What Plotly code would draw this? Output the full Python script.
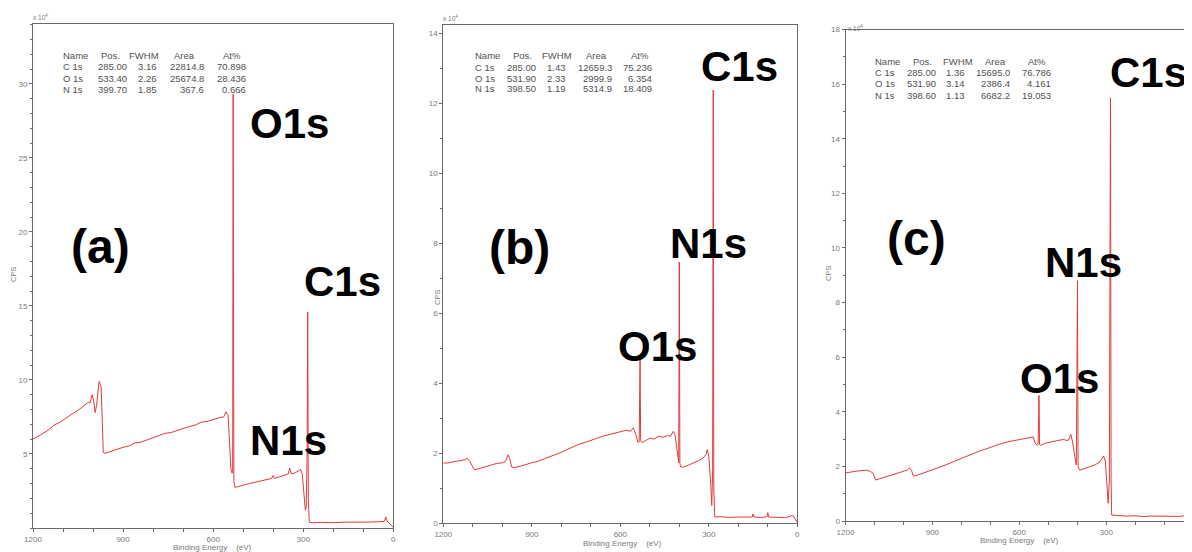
import plotly.graph_objects as go

W, H = 1192, 552
OFF = 8  # page body margin of the browser

# ---------------- survey spectrum (a) ----------------
be_a = [1200, 1185, 1170, 1150, 1130, 1110, 1090, 1070, 1050, 1030, 1015, 1010, 1003, 998, 993, 988, 983, 980, 976, 973, 969, 966,
        960, 940, 920, 900, 880, 860, 840, 820, 800, 780, 760, 740, 720, 700, 680, 660, 640, 620, 600, 580, 565, 557, 550, 545,
        541, 537, 535, 533.4, 531, 528, 524, 515, 500, 480, 460, 440, 420, 405, 400, 396, 380, 360, 350, 345, 340, 325, 315, 308,
        303, 297, 293, 290, 287, 285, 283, 280, 270, 240, 200, 160, 120, 80, 50, 30, 25, 22, 15, 5, 0]
cps_a = [6.0, 6.2, 6.35, 6.6, 6.95, 7.15, 7.45, 7.7, 7.95, 8.3, 8.5, 8.45, 9.0, 8.6, 7.8, 8.3, 9.4, 9.9, 9.7, 9.5, 7.0, 5.1,
         5.05, 5.2, 5.3, 5.45, 5.55, 5.75, 5.8, 5.95, 6.1, 6.2, 6.4, 6.45, 6.6, 6.75, 6.85, 6.95, 7.15, 7.2, 7.35, 7.45, 7.5, 7.85, 7.6, 6.0,
         4.0, 3.7, 3.8, 29.3, 3.2, 2.75, 2.75, 2.8, 2.9, 3.0, 3.1, 3.2, 3.3, 3.35, 3.55, 3.35, 3.45, 3.55, 3.65, 4.05, 3.65, 3.75, 3.85, 3.95,
         3.6, 2.0, 1.2, 1.4, 5.0, 14.6, 2.0, 0.4, 0.36, 0.38, 0.36, 0.4, 0.38, 0.4, 0.42, 0.45, 0.75, 0.5, 0.35, 0.15, 0.05]

# ---------------- survey spectrum (b) ----------------
be_b = [1200, 1180, 1160, 1140, 1125, 1119, 1110, 1102, 1095, 1080, 1060, 1040, 1020, 1000, 990, 980, 975, 968, 960, 940, 920,
        900, 880, 860, 840, 820, 800, 780, 760, 740, 720, 700, 680, 660, 640, 620, 600, 580, 565, 556, 548, 540, 536, 533, 531,
        527, 515, 500, 485, 470, 455, 440, 430, 420, 414, 408, 402, 400, 398, 395, 385, 370, 350, 335, 320, 310, 305, 300, 294,
        290, 287, 285, 283, 280, 260, 230, 200, 170, 153, 150, 147, 120, 103, 100, 97, 60, 40, 22, 15, 8, 0]
cps_b = [1.71, 1.72, 1.76, 1.78, 1.82, 1.85, 1.76, 1.62, 1.52, 1.55, 1.6, 1.65, 1.7, 1.72, 1.75, 1.95, 1.85, 1.6, 1.58, 1.62, 1.68,
         1.72, 1.76, 1.82, 1.88, 1.95, 2.02, 2.1, 2.18, 2.25, 2.3, 2.35, 2.42, 2.48, 2.52, 2.58, 2.62, 2.65, 2.62, 2.72, 2.55, 2.3, 2.32, 4.71, 2.35,
         2.3, 2.35, 2.42, 2.4, 2.48, 2.45, 2.5, 2.48, 2.62, 2.5, 2.1, 1.72, 7.46, 1.7, 1.6, 1.6, 1.65, 1.72, 1.78, 1.85, 1.95, 2.1, 1.9, 1.2,
         0.5, 1.5, 12.37, 1.0, 0.17, 0.18, 0.16, 0.17, 0.16, 0.17, 0.26, 0.17, 0.16, 0.18, 0.3, 0.17, 0.16, 0.15, 0.2, 0.22, 0.12, 0.02]

# ---------------- survey spectrum (c) ----------------
be_c = [1200, 1180, 1160, 1140, 1128, 1115, 1105, 1096, 1080, 1060, 1040, 1020, 1000, 985, 979, 972, 966, 960, 940, 920, 900,
        880, 860, 840, 820, 800, 780, 760, 740, 720, 700, 680, 660, 640, 620, 600, 580, 560, 552, 545, 538, 535, 532, 530, 527,
        510, 490, 470, 455, 447, 438, 430, 422, 416, 410, 403, 399, 397, 392, 380, 360, 340, 321, 309, 303, 297, 293, 289, 285,
        283, 281, 260, 230, 200, 170, 150, 120, 90, 60, 40, 30, 22, 12, 4, 0]
cps_c = [1.76, 1.8, 1.83, 1.85, 1.86, 1.82, 1.75, 1.5, 1.55, 1.62, 1.7, 1.76, 1.82, 1.88, 1.95, 1.85, 1.65, 1.65, 1.72, 1.8, 1.86,
         1.95, 2.03, 2.12, 2.2, 2.3, 2.38, 2.47, 2.55, 2.62, 2.7, 2.78, 2.84, 2.9, 2.95, 2.98, 3.02, 3.05, 3.08, 2.85, 2.77, 2.8, 4.6, 2.8, 2.77,
         2.85, 2.9, 2.95, 2.98, 2.99, 2.95, 2.96, 3.17, 2.9, 2.47, 2.05, 8.8, 2.0, 1.86, 1.9, 1.98, 2.05, 2.17, 2.38, 2.2, 1.3, 0.65, 1.5, 15.5,
         1.5, 0.22, 0.2, 0.18, 0.19, 0.16, 0.18, 0.17, 0.18, 0.16, 0.17, 0.2, 0.22, 0.12, 0.02, 0.0]

# ---------------- quantification tables ----------------
peak_names = ["C 1s", "O 1s", "N 1s"]
pos_a, fwhm_a, area_a, at_a = [285.00, 533.40, 399.70], [3.16, 2.26, 1.85], [22814.8, 25674.8, 367.6], [70.898, 28.436, 0.666]
pos_b, fwhm_b, area_b, at_b = [285.00, 531.90, 398.50], [1.43, 2.33, 1.19], [12659.3, 2999.9, 5314.9], [75.236, 6.354, 18.409]
pos_c, fwhm_c, area_c, at_c = [285.00, 531.90, 398.60], [1.36, 3.14, 1.13], [15695.0, 2386.4, 6682.2], [76.786, 4.161, 19.053]
headers = ["Name", "Pos.", "FWHM", "Area", "At%"]

panel_tags = ["(a)", "(b)", "(c)"]
peak_labels = ["O1s", "C1s", "N1s"]
y_ticks_a = [5, 10, 15, 20, 25, 30]
y_ticks_b = [0, 2, 4, 6, 8, 10, 12, 14]
y_ticks_c = [0, 2, 4, 6, 8, 10, 12, 14, 16, 18]
x_ticks = [1200, 900, 600, 300, 0]

RED = "#e23a3a"
AX = "#6a6a6a"
TXT = "#7a7a7a"


def fx(p):
    return (p - OFF) / W


def fy(p):
    return 1 - (p - OFF) / H


panels = [
    dict(be=be_a, val=cps_a, xd=(33, 393.3), yd=(528, 24), yr=[0, 34.05], xr=[1200, 0], yt=y_ticks_a,
         tbl=(pos_a, fwhm_a, area_a, at_a), tx=(61, 110, 129, 144, 159, 184, 206, 232, 248), ty=(55, 66.5, 78, 89.5),
         tag=(100, 246), labels={"O1s": (289, 123), "C1s": (342, 281), "N1s": (288, 440)},
         cpsxy=(13, 275), xtitle=(213, 547), x104=(40, 17)),
    dict(be=be_b, val=cps_b, xd=(443.3, 797.3), yd=(523, 25), yr=[0, 14.23], xr=[1200, 0], yt=y_ticks_b,
         tbl=(pos_b, fwhm_b, area_b, at_b), tx=(473, 522, 538, 557, 568, 596, 614, 640, 654), ty=(56, 67, 78, 89),
         tag=(519, 247), labels={"C1s": (739, 66), "N1s": (708, 243), "O1s": (657, 346)},
         cpsxy=(437, 298), xtitle=(622, 543), x104=(450, 18)),
    dict(be=be_c, val=cps_c, xd=(845.5, 1200), yd=(521, 29.5), yr=[0, 18], xr=[1200, -24], yt=y_ticks_c,
         tbl=(pos_c, fwhm_c, area_c, at_c), tx=(873, 922, 938, 958, 967, 995, 1012, 1037, 1053), ty=(62, 73, 83.5, 95),
         tag=(916, 238), labels={"C1s": (1148, 73), "N1s": (1083, 263), "O1s": (1059, 378)},
         cpsxy=(828, 273), xtitle=(1019, 540), x104=(855, 28)),
]

fig = go.Figure()
annotations = []
layout = dict(width=W, height=H, margin=dict(l=0, r=0, t=0, b=0, autoexpand=False), paper_bgcolor="white",
              plot_bgcolor="white", showlegend=False)

tickfont = dict(family="Liberation Sans, Arial, sans-serif", size=8, color=TXT)
tblfont = dict(family="Liberation Sans, Arial, sans-serif", size=9.5, color="#505050")
bigfont = dict(family="Liberation Sans, Arial, sans-serif", size=42, color="black", weight="bold")

for i, p in enumerate(panels, start=1):
    sx = "" if i == 1 else str(i)
    fig.add_trace(go.Scatter(x=p["be"], y=p["val"], mode="lines", line=dict(color=RED, width=1),
                             xaxis="x" + sx, yaxis="y" + sx, hoverinfo="skip"))
    layout["xaxis" + sx] = dict(domain=[fx(p["xd"][0]), min(1.0, fx(p["xd"][1]))], range=p["xr"], anchor="y" + sx,
                                automargin=False,
                                showline=True, linecolor=AX, linewidth=1, mirror=True, showgrid=False, zeroline=False,
                                tickvals=x_ticks, ticks="outside", ticklen=3, tickcolor=AX, tickfont=tickfont,
                                minor=dict(dtick=100, ticks="outside", ticklen=3, tickcolor=AX, showgrid=False))
    layout["yaxis" + sx] = dict(domain=[fy(p["yd"][0]), fy(p["yd"][1])], range=p["yr"], anchor="x" + sx,
                                automargin=False,
                                showline=True, linecolor=AX, linewidth=1, mirror=True, showgrid=False, zeroline=False,
                                tickvals=p["yt"], ticks="outside", ticklen=3, tickcolor=AX, tickfont=tickfont,
                                minor=dict(dtick=1, ticks="outside", ticklen=2, tickcolor=AX, showgrid=False))

    # quantification table
    tx = p["tx"]
    start = len(annotations)
    annotations.append(dict(x=fx(tx[0]), y=fy(p["ty"][0]), text=headers[0], xanchor="left", yanchor="middle"))
    for k, h in enumerate(headers[1:]):
        annotations.append(dict(x=fx(tx[1 + 2 * k]), y=fy(p["ty"][0]), text=h, xanchor="center", yanchor="middle"))
    pos, fw, ar, at = p["tbl"]
    for r in range(3):
        yy = fy(p["ty"][r + 1])
        annotations.append(dict(x=fx(tx[0]), y=yy, text=peak_names[r], xanchor="left", yanchor="middle"))
        vals = [f"{pos[r]:.2f}", f"{fw[r]:.2f}", f"{ar[r]:.1f}", f"{at[r]:.3f}"]
        for k, v in enumerate(vals):
            annotations.append(dict(x=fx(tx[2 + 2 * k]), y=yy, text=v, xanchor="right", yanchor="middle"))
    for a in annotations[start:]:
        a.update(xref="paper", yref="paper", showarrow=False, font=tblfont)

    # big labels
    annotations.append(dict(x=fx(p["tag"][0]), y=fy(p["tag"][1]), text=panel_tags[i - 1], xref="paper", yref="paper",
                            showarrow=False, xanchor="center", yanchor="middle",
                            font=dict(bigfont, size=48)))
    for name in peak_labels:
        cx, cy = p["labels"][name]
        annotations.append(dict(x=fx(cx), y=fy(cy), text=name, xref="paper", yref="paper", showarrow=False,
                                xanchor="center", yanchor="middle", font=bigfont))

    # axis captions
    annotations.append(dict(x=fx(p["cpsxy"][0]), y=fy(p["cpsxy"][1]), text="CPS", textangle=-90, xref="paper",
                            yref="paper", showarrow=False, xanchor="center", yanchor="middle",
                            font=dict(tickfont, size=7.5)))
    annotations.append(dict(x=fx(p["xtitle"][0]), y=fy(p["xtitle"][1]), text="Binding Energy    (eV)", xref="paper",
                            yref="paper", showarrow=False, xanchor="center", yanchor="middle",
                            font=dict(tickfont, size=8)))
    annotations.append(dict(x=fx(p["x104"][0]), y=fy(p["x104"][1]), text="x 10<sup>4</sup>", xref="paper",
                            yref="paper", showarrow=False, xanchor="center", yanchor="middle",
                            font=dict(tickfont, size=6.5)))

layout["annotations"] = annotations
fig.update_layout(**layout)
fig.write_html("out.html", config={"displayModeBar": False})
